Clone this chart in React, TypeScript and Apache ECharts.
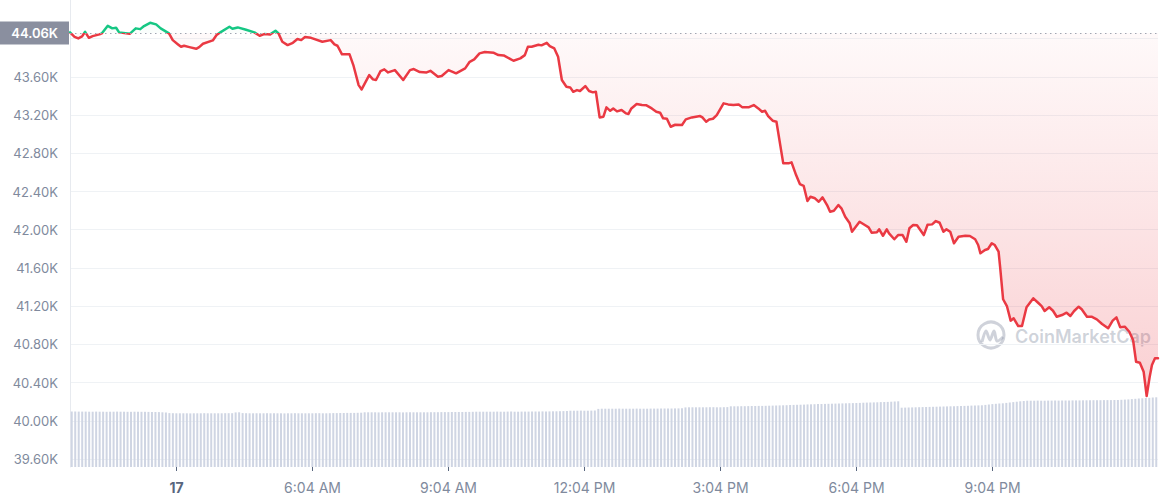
import React, { useEffect, useRef } from 'react';
import * as echarts from 'echarts';

// minutes since 0:43 AM (start of the 24h window)
const times = [
  0, 6, 11, 16, 20, 25, 30, 39, 42, 50, 56, 61, 65, 79, 87, 93, 98, 106, 114, 120,
  131, 136, 143, 147, 151, 158, 167, 171, 176, 189, 194, 200, 211, 215, 222, 233, 244, 251, 257, 265,
  272, 276, 281, 288, 295, 301, 306, 311, 319, 334, 345, 350, 354, 360, 370, 375, 382, 386, 396, 401,
  405, 411, 416, 421, 430, 441, 450, 455, 463, 472, 477, 487, 492, 501, 511, 523, 529, 535, 542, 549,
  561, 567, 574, 587, 596, 602, 606, 611, 620, 624, 631, 635, 641, 646, 651, 657, 662, 666, 671, 675,
  682, 687, 692, 696, 701, 706, 710, 715, 719, 724, 730, 736, 739, 743, 750, 757, 763, 770, 776, 781,
  785, 790, 795, 801, 810, 815, 823, 834, 837, 842, 846, 851, 856, 865, 871, 878, 885, 890, 898, 905,
  911, 916, 920, 924, 930, 935, 944, 951, 955, 961, 966, 971, 976, 980, 986, 991, 996, 1002, 1006, 1011,
  1017, 1021, 1026, 1032, 1035, 1045, 1052, 1057, 1061, 1068, 1071, 1076, 1081, 1084, 1091, 1096, 1102, 1107, 1111, 1116,
  1121, 1130, 1135, 1141, 1146, 1151, 1156, 1160, 1165, 1170, 1176, 1185, 1191, 1198, 1202, 1205, 1211, 1215, 1220, 1224,
  1229, 1231, 1235, 1240, 1245, 1249, 1255, 1260, 1266, 1275, 1282, 1286, 1290, 1296, 1301, 1306, 1313, 1319, 1324, 1329,
  1335, 1339, 1346, 1352, 1359, 1366, 1374, 1380, 1385, 1390, 1396, 1402, 1407, 1411, 1416, 1421, 1425, 1429, 1432, 1436,
  1440,
];

const prices = [
  44066, 44020, 44003, 44024, 44072, 44009, 44027, 44045, 44055, 44135, 44108, 44114, 44066, 44051, 44108, 44100, 44132, 44166, 44150, 44108,
  44055, 43985, 43940, 43915, 43926, 43912, 43894, 43912, 43947, 43982, 44038, 44072, 44125, 44104, 44118, 44093, 44066, 44030, 44048, 44045,
  44083, 44055, 43968, 43933, 43957, 43996, 43985, 44017, 44009, 43968, 43985, 43940, 43926, 43836, 43836, 43724, 43514, 43469, 43619, 43574,
  43567, 43661, 43679, 43647, 43671, 43567, 43671, 43682, 43650, 43647, 43664, 43601, 43609, 43671, 43637, 43689, 43758, 43783, 43846, 43860,
  43852, 43828, 43825, 43769, 43794, 43828, 43915, 43915, 43936, 43930, 43957, 43923, 43898, 43811, 43567, 43497, 43490, 43444, 43462, 43452,
  43504, 43452, 43438, 43444, 43176, 43183, 43281, 43245, 43270, 43239, 43253, 43218, 43211, 43270, 43316, 43305, 43302, 43270, 43235, 43225,
  43166, 43162, 43078, 43099, 43096, 43155, 43176, 43190, 43176, 43130, 43155, 43162, 43200, 43323, 43312, 43305, 43312, 43281, 43281, 43305,
  43270, 43235, 43245, 43190, 43141, 43130, 42695, 42695, 42705, 42572, 42478, 42460, 42300, 42345, 42329, 42293, 42339, 42258, 42188, 42199,
  42258, 42224, 42136, 42067, 41979, 42084, 42049, 42025, 41969, 41973, 42004, 41937, 42004, 41962, 41900, 41944, 41944, 41874, 42015, 42049,
  42046, 41944, 42052, 42056, 42091, 42073, 41979, 42004, 41979, 41858, 41927, 41937, 41934, 41900, 41840, 41753, 41788, 41798, 41858, 41840,
  41770, 41613, 41272, 41201, 41048, 41073, 40992, 40992, 41188, 41282, 41230, 41201, 41149, 41188, 41152, 41089, 41107, 41131, 41097, 41149,
  41194, 41167, 41089, 41089, 41062, 41013, 40968, 41048, 41083, 40978, 40985, 40932, 40846, 40618, 40608, 40514, 40259, 40461, 40584, 40654,
  40654,
];

// relative volume bars (one per interval)
const volumes = [
  55.5, 55.5, 55.4, 55.4, 55.4, 55.3, 55.3, 55.4, 55.3, 55.3, 55.2, 55.3, 55.3, 55.4, 55.3, 55.3, 55.2, 55.2, 55.3, 55.3,
  55.2, 55.2, 55.1, 55.0, 55.0, 54.9, 54.7, 54.5, 53.9, 53.8, 53.7, 53.7, 53.7, 53.7, 53.6, 53.7, 53.7, 53.7, 53.8, 53.7,
  53.7, 53.7, 53.7, 53.7, 53.8, 53.8, 53.8, 54.6, 54.7, 53.9, 53.8, 53.7, 53.7, 53.7, 53.7, 53.7, 53.8, 53.7, 53.7, 53.7,
  53.7, 53.6, 53.7, 53.7, 53.8, 53.7, 53.7, 53.7, 53.7, 53.7, 53.8, 53.8, 53.7, 53.7, 53.8, 53.9, 53.9, 54.0, 54.0, 54.1,
  54.1, 54.1, 54.2, 54.3, 54.7, 54.7, 54.7, 54.7, 54.6, 54.7, 54.7, 54.7, 54.7, 54.7, 54.7, 54.6, 54.7, 54.7, 54.7, 54.7,
  54.7, 54.7, 54.7, 54.8, 54.8, 54.8, 54.9, 54.9, 54.9, 55.0, 55.0, 55.0, 55.0, 55.1, 55.1, 55.2, 55.3, 55.3, 55.3, 55.3,
  55.3, 55.3, 55.4, 55.3, 55.3, 55.4, 55.4, 55.3, 55.3, 55.4, 55.4, 55.4, 55.5, 55.5, 55.5, 55.6, 55.6, 55.6, 55.7, 55.7,
  55.8, 55.9, 56.0, 56.3, 56.3, 56.3, 56.4, 56.3, 56.3, 56.4, 56.5, 58.1, 58.3, 58.3, 58.3, 58.3, 58.3, 58.4, 58.3, 58.3,
  58.3, 58.3, 58.4, 58.3, 58.3, 58.3, 58.4, 58.4, 58.4, 58.5, 58.5, 58.5, 58.5, 58.6, 58.6, 58.7, 59.6, 59.7, 59.7, 59.7,
  59.7, 59.7, 59.7, 59.8, 59.8, 59.7, 59.7, 59.8, 59.9, 60.7, 60.7, 60.7, 60.8, 60.8, 60.9, 61.0, 61.0, 61.1, 61.1, 61.2,
  61.3, 61.4, 61.5, 61.6, 61.7, 61.8, 62.0, 62.1, 62.2, 62.3, 62.4, 62.6, 62.7, 62.8, 62.9, 63.0, 63.1, 63.2, 63.3, 63.4,
  63.5, 63.6, 63.7, 63.8, 63.9, 64.0, 64.1, 64.3, 64.4, 64.5, 64.6, 64.7, 64.9, 65.0, 65.1, 65.3, 65.5, 65.7, 59.3, 59.4,
  59.5, 59.6, 59.7, 59.8, 59.9, 60.0, 60.1, 60.2, 60.3, 60.4, 60.5, 60.6, 60.7, 60.8, 60.9, 61.0, 61.1, 61.2, 61.4, 61.5,
  61.6, 61.7, 62.1, 62.5, 62.9, 63.2, 63.5, 63.7, 64.1, 64.5, 64.9, 65.3, 65.7, 66.0, 66.3, 66.3, 66.3, 66.4, 66.3, 66.3,
  66.4, 66.4, 66.5, 66.4, 66.5, 66.5, 66.5, 66.6, 66.6, 66.6, 66.7, 66.7, 66.7, 66.8, 66.8, 66.8, 66.9, 66.9, 66.9, 67.0,
  67.0, 67.2, 67.4, 67.6, 67.9, 68.2, 68.5, 68.7, 69.0, 69.2, 69.5, 69.7,
];

const openPrice = 44060;
const openLabel = '44.06K';
const yLabelValues = [39600, 40000, 40400, 40800, 41200, 41600, 42000, 42400, 42800, 43200, 43600];
const yGridValues = [39600, 40000, 40400, 40800, 41200, 41600, 42000, 42400, 42800, 43200, 43600, 44000];
const tickTimes = [141, 321, 501, 681, 861, 1041, 1221];
const tickLabels = ['17', '6:04 AM', '9:04 AM', '12:04 PM', '3:04 PM', '6:04 PM', '9:04 PM'];

const RED = '#ea3943';
const GREEN = '#16c784';
const LABEL = '#808a9d';
const FONT = 'Inter, "Noto Sans", sans-serif';

export default function App() {
  const ref = useRef<HTMLDivElement>(null);

  useEffect(() => {
    const chart = echarts.init(ref.current as HTMLDivElement, null, { renderer: 'svg' });
    const H = 500;
    const lineData = times.map((t, i) => [t, prices[i]]);
    const volCats = volumes.map((_, i) => String(i));

    const option: any = {
      animation: false,
      backgroundColor: '#ffffff',
      textStyle: { fontFamily: FONT },
      grid: [
        { left: 70, right: 3, top: 0, bottom: 33 },
        { left: 70, right: 3, top: 367, bottom: 33 },
      ],
      xAxis: [
        {
          type: 'value',
          gridIndex: 0,
          min: 0,
          max: 1440,
          axisLine: { show: false },
          splitLine: { show: false },
          axisTick: {
            show: true,
            length: 4,
            customValues: tickTimes,
            lineStyle: { color: '#58667e', width: 1 },
          },
          axisLabel: {
            customValues: tickTimes,
            margin: 13,
            color: LABEL,
            fontSize: 14,
            fontFamily: FONT,
            formatter: (v: number) => {
              const idx = tickTimes.indexOf(Math.round(v));
              if (idx < 0) return '';
              return idx === 0 ? '{b|' + tickLabels[idx] + '}' : tickLabels[idx];
            },
            rich: {
              b: { fontWeight: 'bold', color: '#58667e', fontSize: 14, fontFamily: FONT },
            },
          },
        },
        {
          type: 'category',
          gridIndex: 1,
          data: volCats,
          boundaryGap: true,
          show: false,
        },
      ],
      yAxis: [
        {
          type: 'value',
          gridIndex: 0,
          min: 39516,
          max: 44405,
          axisLine: { show: true, lineStyle: { color: '#e7eaef' } },
          axisTick: { show: false, customValues: yGridValues },
          splitLine: { show: true, lineStyle: { color: '#eff2f5', width: 1 } },
          axisLabel: {
            customValues: yLabelValues,
            margin: 12,
            color: LABEL,
            fontSize: 13,
            fontFamily: FONT,
            formatter: (v: number) => (v / 1000).toFixed(2) + 'K',
          },
        },
        {
          type: 'value',
          gridIndex: 1,
          min: 0,
          max: 100,
          show: false,
          splitLine: { show: false },
        },
      ],
      graphic: [
        {
          type: 'circle',
          z: 0,
          shape: { cx: 991, cy: 335, r: 13 },
          style: { fill: 'none', stroke: 'rgba(128,138,157,0.38)', lineWidth: 3 },
        },
        {
          type: 'polyline',
          z: 0,
          shape: {
            points: [[982, 342], [986, 331], [990, 340], [994, 331], [997, 341], [1003, 337]],
            smooth: 0.3,
          },
          style: { fill: 'none', stroke: 'rgba(128,138,157,0.38)', lineWidth: 3 },
        },
        {
          type: 'text',
          z: 0,
          x: 1015,
          y: 336,
          style: {
            text: 'CoinMarketCap',
            fontSize: 18,
            fontWeight: 600,
            fontFamily: FONT,
            fill: 'rgba(128,138,157,0.38)',
            verticalAlign: 'middle',
          },
        },
      ],
      series: [
        {
          id: 'volume',
          type: 'bar',
          xAxisIndex: 1,
          yAxisIndex: 1,
          data: volumes,
          barWidth: 2,
          itemStyle: { color: '#cfd5e3' },
          silent: true,
          z: 1,
        },
        {
          id: 'price',
          type: 'line',
          xAxisIndex: 0,
          yAxisIndex: 0,
          data: lineData,
          showSymbol: false,
          symbol: 'none',
          lineStyle: { width: 2.5, color: RED, join: 'round', cap: 'round' },
          areaStyle: { origin: openPrice, color: 'rgba(234,57,67,0.15)' },
          z: 3,
          markLine: {
            silent: true,
            symbol: ['none', 'none'],
            lineStyle: { color: '#a0a6b2', type: [1.5, 3.5], width: 1 },
            label: {
              show: true,
              position: 'start',
              distance: 1,
              formatter: openLabel,
              color: '#ffffff',
              backgroundColor: '#8a8f9f',
              fontSize: 13,
              fontWeight: 600,
              fontFamily: FONT,
              padding: [5, 11, 5, 12],
            },
            data: [{ yAxis: openPrice }],
          },
        },
      ],
    };

    chart.setOption(option);

    const yb = chart.convertToPixel({ yAxisIndex: 0 } as any, openPrice) as number;
    const b = Math.min(Math.max(yb / H, 0), 1);
    const lineGrad = new echarts.graphic.LinearGradient(0, 0, 0, H, [
      { offset: 0, color: GREEN },
      { offset: b, color: GREEN },
      { offset: b, color: RED },
      { offset: 1, color: RED },
    ], true);
    const areaGrad = new echarts.graphic.LinearGradient(0, 0, 0, H, [
      { offset: 0, color: 'rgba(22,199,132,0.10)' },
      { offset: b, color: 'rgba(22,199,132,0.03)' },
      { offset: b, color: 'rgba(234,57,67,0.04)' },
      { offset: 400 / H, color: 'rgba(234,57,67,0.34)' },
      { offset: 1, color: 'rgba(234,57,67,0.40)' },
    ], true);
    chart.setOption({
      series: [{ id: 'price', lineStyle: { color: lineGrad }, areaStyle: { color: areaGrad } }],
    });

    return () => chart.dispose();
  }, []);

  return (
    <div
      ref={ref}
      style={{ position: 'fixed', left: 0, top: 0, width: 1161, height: 500 }}
    />
  );
}
